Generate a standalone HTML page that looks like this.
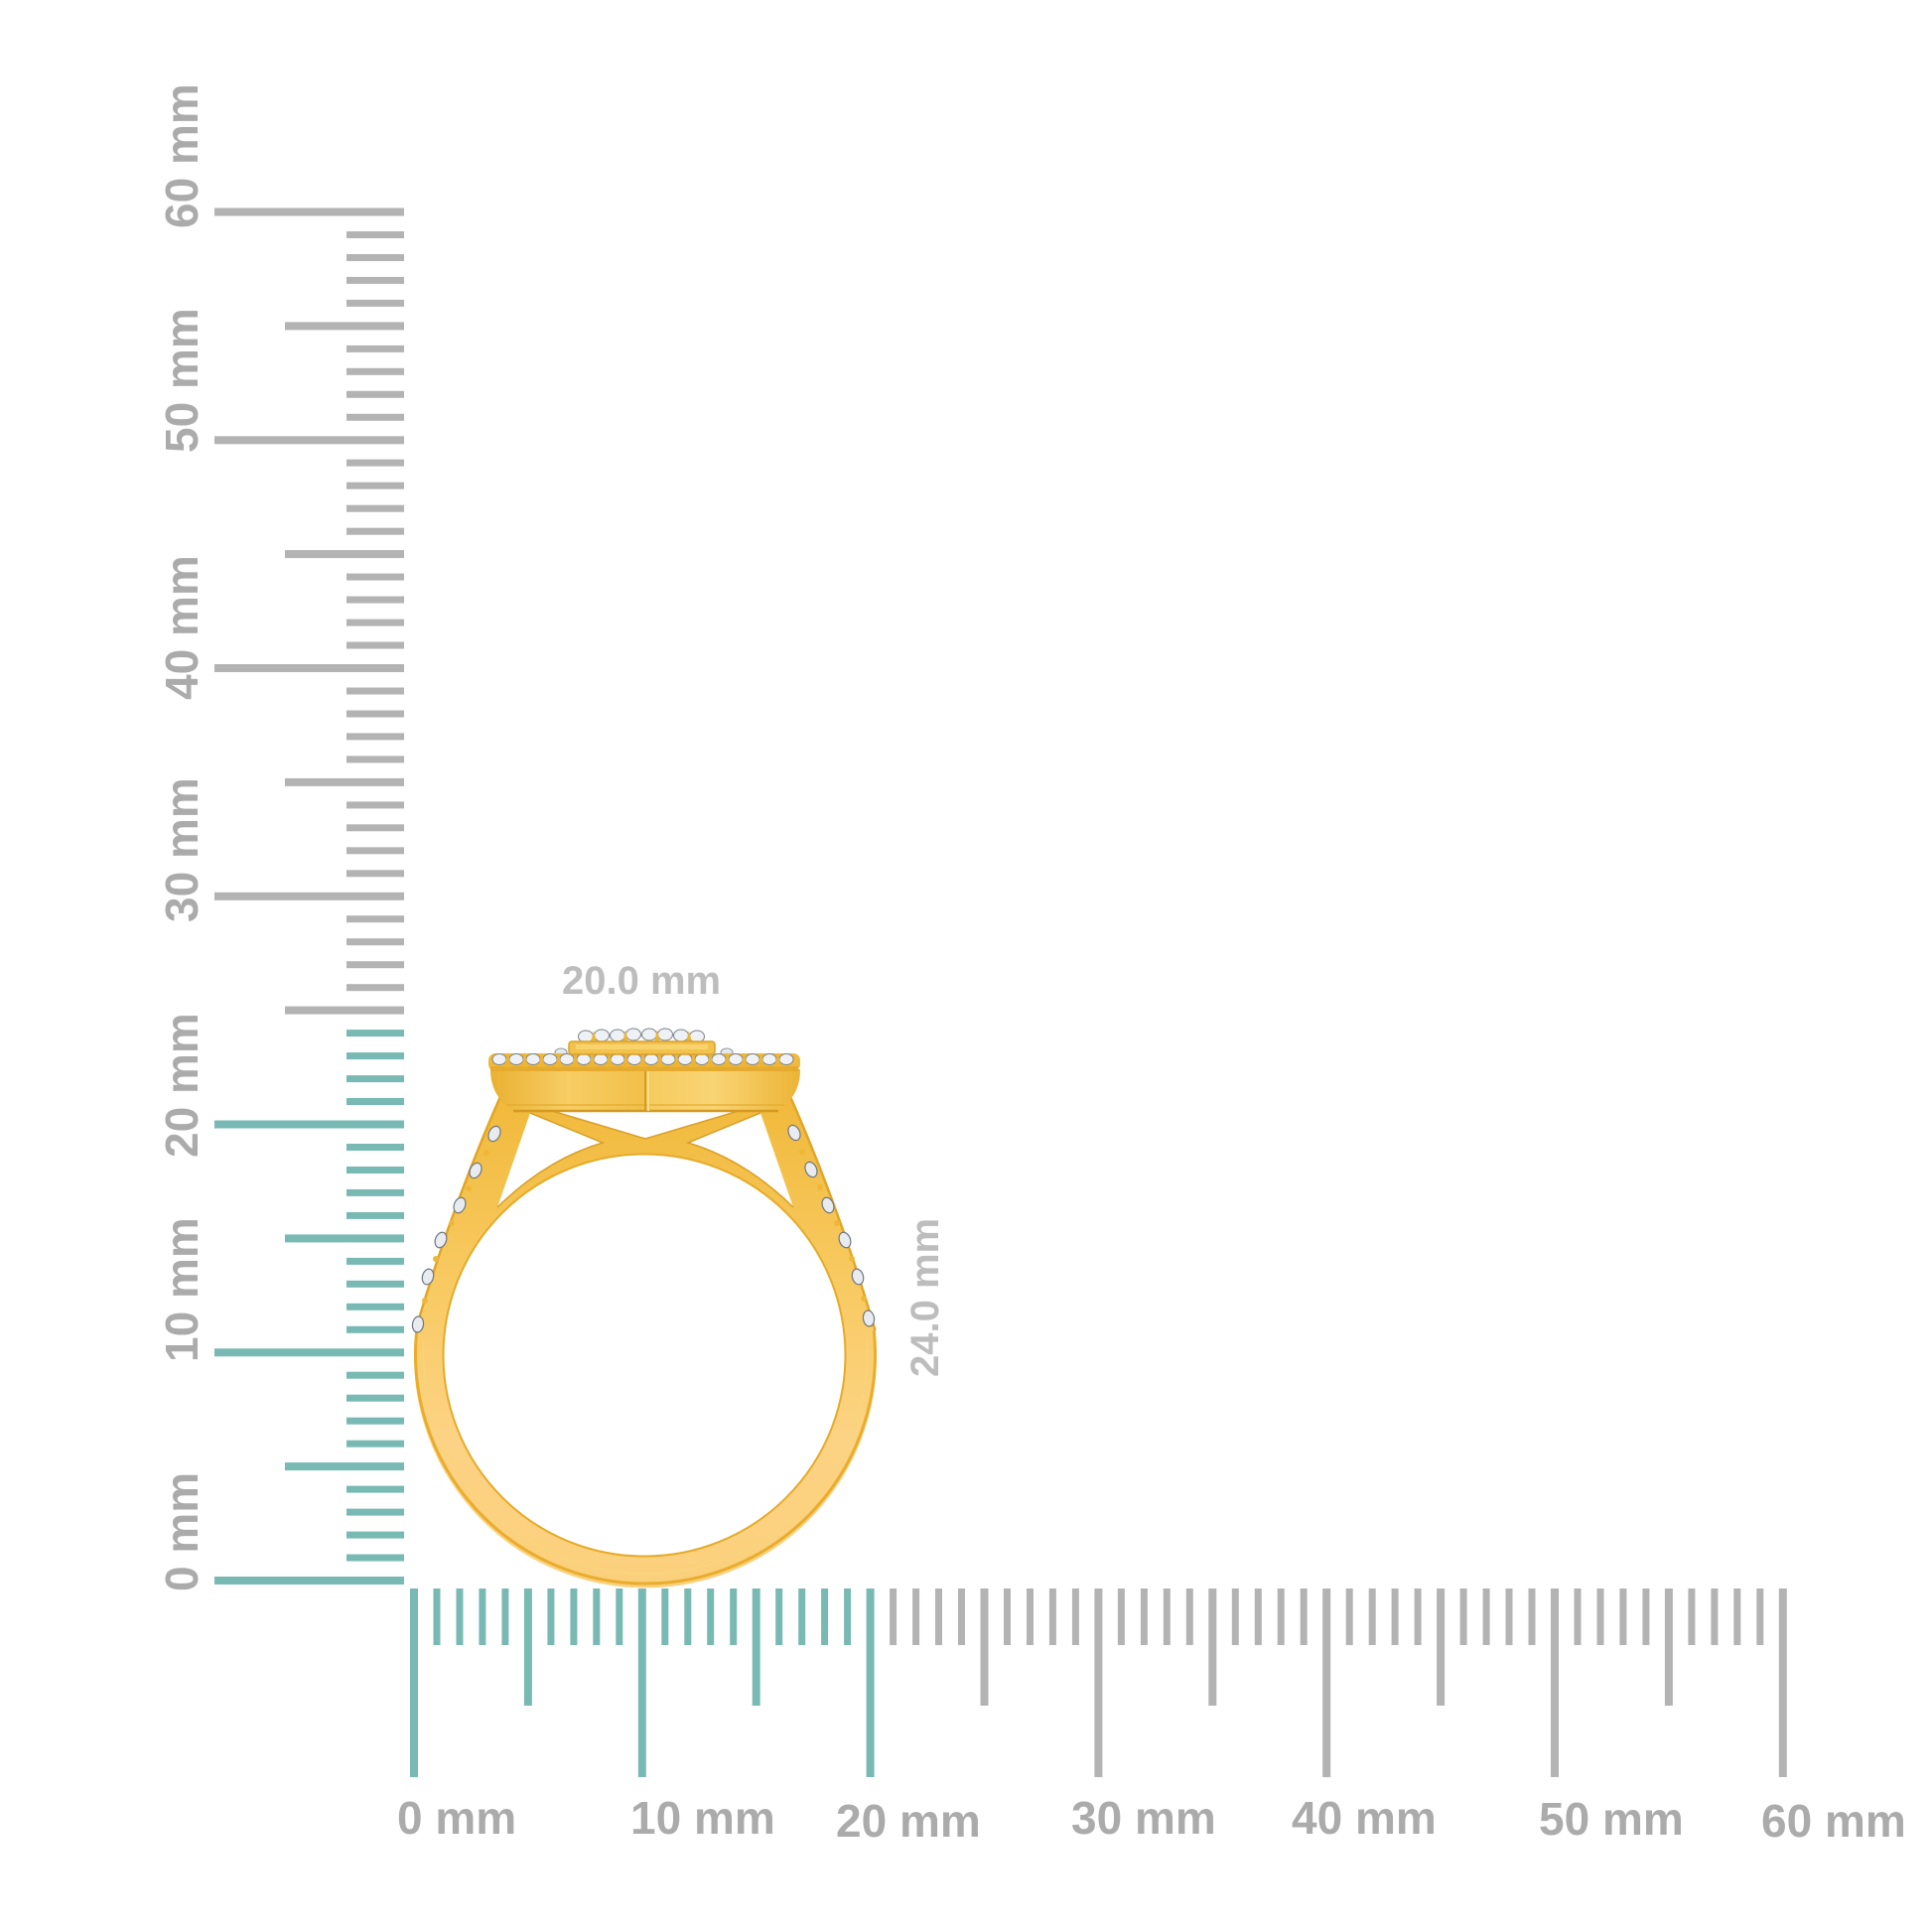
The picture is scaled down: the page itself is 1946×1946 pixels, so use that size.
<!DOCTYPE html>
<html>
<head>
<meta charset="utf-8">
<style>
html,body{margin:0;padding:0;background:#fff;}
svg{display:block;}
text{font-family:"Liberation Sans",Arial,Helvetica,sans-serif;font-weight:bold;}
</style>
</head>
<body>
<svg width="1946" height="1946" viewBox="0 0 1946 1946" xmlns="http://www.w3.org/2000/svg">
<rect width="1946" height="1946" fill="#fff"/>
<defs>
<linearGradient id="gband" x1="0" y1="1090" x2="0" y2="1600" gradientUnits="userSpaceOnUse">
<stop offset="0" stop-color="#f0b838"/>
<stop offset="0.4" stop-color="#f8ca62"/>
<stop offset="0.7" stop-color="#fcd384"/>
<stop offset="1" stop-color="#fbd07c"/>
</linearGradient>
<linearGradient id="ghead" x1="494" y1="0" x2="806" y2="0" gradientUnits="userSpaceOnUse">
<stop offset="0" stop-color="#eab132"/>
<stop offset="0.25" stop-color="#f7cd64"/>
<stop offset="0.49" stop-color="#f1c04a"/>
<stop offset="0.52" stop-color="#f6cc60"/>
<stop offset="0.72" stop-color="#f9d474"/>
<stop offset="1" stop-color="#ecb436"/>
</linearGradient>
</defs>

<g fill="#78b9b3">
<rect x="216" y="1588" width="191" height="8"/>
<rect x="349" y="1565.5" width="58" height="7"/>
<rect x="349" y="1542.6" width="58" height="7"/>
<rect x="349" y="1519.6" width="58" height="7"/>
<rect x="349" y="1496.6" width="58" height="7"/>
<rect x="287" y="1473.1" width="120" height="8"/>
<rect x="349" y="1450.7" width="58" height="7"/>
<rect x="349" y="1427.7" width="58" height="7"/>
<rect x="349" y="1404.7" width="58" height="7"/>
<rect x="349" y="1381.7" width="58" height="7"/>
<rect x="216" y="1358.3" width="191" height="8"/>
<rect x="349" y="1335.8" width="58" height="7"/>
<rect x="349" y="1312.8" width="58" height="7"/>
<rect x="349" y="1289.8" width="58" height="7"/>
<rect x="349" y="1266.9" width="58" height="7"/>
<rect x="287" y="1243.4" width="120" height="8"/>
<rect x="349" y="1220.9" width="58" height="7"/>
<rect x="349" y="1197.9" width="58" height="7"/>
<rect x="349" y="1175.0" width="58" height="7"/>
<rect x="349" y="1152.0" width="58" height="7"/>
<rect x="216" y="1128.5" width="191" height="8"/>
<rect x="349" y="1106.0" width="58" height="7"/>
<rect x="349" y="1083.1" width="58" height="7"/>
<rect x="349" y="1060.1" width="58" height="7"/>
<rect x="349" y="1037.1" width="58" height="7"/>
</g>
<g fill="#b3b3b3">
<rect x="287" y="1013.6" width="120" height="8"/>
<rect x="349" y="991.2" width="58" height="7"/>
<rect x="349" y="968.2" width="58" height="7"/>
<rect x="349" y="945.2" width="58" height="7"/>
<rect x="349" y="922.2" width="58" height="7"/>
<rect x="216" y="898.8" width="191" height="8"/>
<rect x="349" y="876.3" width="58" height="7"/>
<rect x="349" y="853.3" width="58" height="7"/>
<rect x="349" y="830.3" width="58" height="7"/>
<rect x="349" y="807.4" width="58" height="7"/>
<rect x="287" y="783.9" width="120" height="8"/>
<rect x="349" y="761.4" width="58" height="7"/>
<rect x="349" y="738.4" width="58" height="7"/>
<rect x="349" y="715.5" width="58" height="7"/>
<rect x="349" y="692.5" width="58" height="7"/>
<rect x="216" y="669.0" width="191" height="8"/>
<rect x="349" y="646.5" width="58" height="7"/>
<rect x="349" y="623.6" width="58" height="7"/>
<rect x="349" y="600.6" width="58" height="7"/>
<rect x="349" y="577.6" width="58" height="7"/>
<rect x="287" y="554.1" width="120" height="8"/>
<rect x="349" y="531.7" width="58" height="7"/>
<rect x="349" y="508.7" width="58" height="7"/>
<rect x="349" y="485.7" width="58" height="7"/>
<rect x="349" y="462.7" width="58" height="7"/>
<rect x="216" y="439.3" width="191" height="8"/>
<rect x="349" y="416.8" width="58" height="7"/>
<rect x="349" y="393.8" width="58" height="7"/>
<rect x="349" y="370.8" width="58" height="7"/>
<rect x="349" y="347.9" width="58" height="7"/>
<rect x="287" y="324.4" width="120" height="8"/>
<rect x="349" y="301.9" width="58" height="7"/>
<rect x="349" y="278.9" width="58" height="7"/>
<rect x="349" y="256.0" width="58" height="7"/>
<rect x="349" y="233.0" width="58" height="7"/>
<rect x="216" y="209.5" width="191" height="8"/>
</g>

<g fill="#78b9b3">
<rect x="413" y="1600" width="8" height="190"/>
<rect x="436.5" y="1600" width="7" height="57"/>
<rect x="459.5" y="1600" width="7" height="57"/>
<rect x="482.4" y="1600" width="7" height="57"/>
<rect x="505.4" y="1600" width="7" height="57"/>
<rect x="527.9" y="1600" width="8" height="118"/>
<rect x="551.4" y="1600" width="7" height="57"/>
<rect x="574.4" y="1600" width="7" height="57"/>
<rect x="597.3" y="1600" width="7" height="57"/>
<rect x="620.3" y="1600" width="7" height="57"/>
<rect x="642.8" y="1600" width="8" height="190"/>
<rect x="666.3" y="1600" width="7" height="57"/>
<rect x="689.3" y="1600" width="7" height="57"/>
<rect x="712.2" y="1600" width="7" height="57"/>
<rect x="735.2" y="1600" width="7" height="57"/>
<rect x="757.7" y="1600" width="8" height="118"/>
<rect x="781.2" y="1600" width="7" height="57"/>
<rect x="804.2" y="1600" width="7" height="57"/>
<rect x="827.1" y="1600" width="7" height="57"/>
<rect x="850.1" y="1600" width="7" height="57"/>
<rect x="872.6" y="1600" width="8" height="190"/>
</g>
<g fill="#b3b3b3">
<rect x="896.1" y="1600" width="7" height="57"/>
<rect x="919.1" y="1600" width="7" height="57"/>
<rect x="942.0" y="1600" width="7" height="57"/>
<rect x="965.0" y="1600" width="7" height="57"/>
<rect x="987.5" y="1600" width="8" height="118"/>
<rect x="1011.0" y="1600" width="7" height="57"/>
<rect x="1034.0" y="1600" width="7" height="57"/>
<rect x="1056.9" y="1600" width="7" height="57"/>
<rect x="1079.9" y="1600" width="7" height="57"/>
<rect x="1102.4" y="1600" width="8" height="190"/>
<rect x="1125.9" y="1600" width="7" height="57"/>
<rect x="1148.9" y="1600" width="7" height="57"/>
<rect x="1171.8" y="1600" width="7" height="57"/>
<rect x="1194.8" y="1600" width="7" height="57"/>
<rect x="1217.3" y="1600" width="8" height="118"/>
<rect x="1240.8" y="1600" width="7" height="57"/>
<rect x="1263.8" y="1600" width="7" height="57"/>
<rect x="1286.7" y="1600" width="7" height="57"/>
<rect x="1309.7" y="1600" width="7" height="57"/>
<rect x="1332.2" y="1600" width="8" height="190"/>
<rect x="1355.7" y="1600" width="7" height="57"/>
<rect x="1378.7" y="1600" width="7" height="57"/>
<rect x="1401.6" y="1600" width="7" height="57"/>
<rect x="1424.6" y="1600" width="7" height="57"/>
<rect x="1447.1" y="1600" width="8" height="118"/>
<rect x="1470.6" y="1600" width="7" height="57"/>
<rect x="1493.6" y="1600" width="7" height="57"/>
<rect x="1516.5" y="1600" width="7" height="57"/>
<rect x="1539.5" y="1600" width="7" height="57"/>
<rect x="1562.0" y="1600" width="8" height="190"/>
<rect x="1585.5" y="1600" width="7" height="57"/>
<rect x="1608.5" y="1600" width="7" height="57"/>
<rect x="1631.4" y="1600" width="7" height="57"/>
<rect x="1654.4" y="1600" width="7" height="57"/>
<rect x="1676.9" y="1600" width="8" height="118"/>
<rect x="1700.4" y="1600" width="7" height="57"/>
<rect x="1723.4" y="1600" width="7" height="57"/>
<rect x="1746.3" y="1600" width="7" height="57"/>
<rect x="1769.3" y="1600" width="7" height="57"/>
<rect x="1791.8" y="1600" width="8" height="190"/>
</g>

<g fill="#ababab" font-size="46">
<text x="400" y="1847">0 mm</text>
<text x="635" y="1847">10 mm</text>
<text x="842" y="1850">20 mm</text>
<text x="1079" y="1847">30 mm</text>
<text x="1301" y="1847">40 mm</text>
<text x="1550" y="1848">50 mm</text>
<text x="1774" y="1850">60 mm</text>
</g>
<g fill="#ababab" font-size="46">
<text transform="translate(199,230) rotate(-90)">60 mm</text>
<text transform="translate(199,456) rotate(-90)">50 mm</text>
<text transform="translate(199,705) rotate(-90)">40 mm</text>
<text transform="translate(199,929) rotate(-90)">30 mm</text>
<text transform="translate(199,1166) rotate(-90)">20 mm</text>
<text transform="translate(199,1372) rotate(-90)">10 mm</text>
<text transform="translate(199,1603) rotate(-90)">0 mm</text>
</g>

<g fill="#bdbdbd" font-size="40">
<text x="566" y="1001">20.0 mm</text>
<text transform="translate(945,1387) rotate(-90)">24.0 mm</text>
</g>

<path d="M506,1100 Q455,1215 418.5,1340 A233,233 0 1,0 881.5,1340 Q845,1215 794,1100 Z" fill="url(#gband)"/>
<path d="M419.7,1340 A231.5,231.5 0 1,0 880.3,1340" fill="none" stroke="#e9ad2b" stroke-width="3"/>
<path d="M426.8,1350 A223.5,223.5 0 1,0 873.2,1350" fill="none" stroke="#f9d47e" stroke-width="1.5" opacity="0.8"/>
<path d="M506,1100 Q455,1215 418.5,1340" fill="none" stroke="#e2a525" stroke-width="2.5"/>
<path d="M794,1100 Q845,1215 881.5,1340" fill="none" stroke="#e2a525" stroke-width="2.5"/>

<circle cx="649" cy="1365" r="202" fill="#fff"/>
<circle cx="649" cy="1365" r="202.5" fill="none" stroke="#e6aa28" stroke-width="2"/>
<polygon points="556,1119 744,1119 650,1147" fill="#fff"/>
<path d="M534,1121 L607,1151 Q550,1168 501,1216 Z" fill="#fff"/>
<path d="M766,1121 L693,1151 Q750,1168 799,1216 Z" fill="#fff"/>
<path d="M534,1121 L607,1151 Q550,1168 501,1216" fill="none" stroke="#d99f26" stroke-width="1.5"/>
<path d="M766,1121 L693,1151 Q750,1168 799,1216" fill="none" stroke="#d99f26" stroke-width="1.5"/>
<polyline points="556,1119 650,1147 744,1119" fill="none" stroke="#d99f26" stroke-width="1.5"/>

<g fill="#e6eaef" stroke="#8d949c" stroke-width="1">
<ellipse cx="565" cy="1060" rx="6" ry="4"/>
<ellipse cx="732" cy="1060" rx="6" ry="4"/>
</g>
<path d="M494,1077 L806,1077 C806,1096 798,1109 784,1119 L517,1119 C502,1109 494,1096 494,1077 Z" fill="url(#ghead)"/>
<path d="M517,1119 L784,1119" stroke="#d49a22" stroke-width="2.5"/>
<path d="M510,1113 L790,1113" stroke="#e4ab2e" stroke-width="2" opacity="0.6"/>
<line x1="650" y1="1079" x2="650" y2="1119" stroke="#d39b28" stroke-width="2"/>
<line x1="653" y1="1079" x2="653" y2="1119" stroke="#fbdc8a" stroke-width="2"/>
<rect x="492" y="1061" width="314" height="18" rx="7" fill="#efb93c"/>
<rect x="494" y="1074" width="310" height="5" fill="#e5ab2f"/>
<g fill="#eef1f5" stroke="#7c838b" stroke-width="1">
<ellipse cx="503" cy="1067" rx="7" ry="5.5"/>
<ellipse cx="520" cy="1067" rx="7" ry="5.5"/>
<ellipse cx="537" cy="1067" rx="7" ry="5.5"/>
<ellipse cx="554" cy="1067" rx="7" ry="5.5"/>
<ellipse cx="571" cy="1067" rx="7" ry="5.5"/>
<ellipse cx="588" cy="1067" rx="7" ry="5.5"/>
<ellipse cx="605" cy="1067" rx="7" ry="5.5"/>
<ellipse cx="622" cy="1067" rx="7" ry="5.5"/>
<ellipse cx="639" cy="1067" rx="7" ry="5.5"/>
<ellipse cx="656" cy="1067" rx="7" ry="5.5"/>
<ellipse cx="673" cy="1067" rx="7" ry="5.5"/>
<ellipse cx="690" cy="1067" rx="7" ry="5.5"/>
<ellipse cx="707" cy="1067" rx="7" ry="5.5"/>
<ellipse cx="724" cy="1067" rx="7" ry="5.5"/>
<ellipse cx="741" cy="1067" rx="7" ry="5.5"/>
<ellipse cx="758" cy="1067" rx="7" ry="5.5"/>
<ellipse cx="775" cy="1067" rx="7" ry="5.5"/>
<ellipse cx="792" cy="1067" rx="7" ry="5.5"/>
</g>
<g fill="#eeb535">
<polygon points="508,1075 511.5,1060 515,1075"/>
<polygon points="525,1075 528.5,1060 532,1075"/>
<polygon points="542,1075 545.5,1060 549,1075"/>
<polygon points="559,1075 562.5,1060 566,1075"/>
<polygon points="576,1075 579.5,1060 583,1075"/>
<polygon points="593,1075 596.5,1060 600,1075"/>
<polygon points="610,1075 613.5,1060 617,1075"/>
<polygon points="627,1075 630.5,1060 634,1075"/>
<polygon points="644,1075 647.5,1060 651,1075"/>
<polygon points="661,1075 664.5,1060 668,1075"/>
<polygon points="678,1075 681.5,1060 685,1075"/>
<polygon points="695,1075 698.5,1060 702,1075"/>
<polygon points="712,1075 715.5,1060 719,1075"/>
<polygon points="729,1075 732.5,1060 736,1075"/>
<polygon points="746,1075 749.5,1060 753,1075"/>
<polygon points="763,1075 766.5,1060 770,1075"/>
<polygon points="780,1075 783.5,1060 787,1075"/>
</g>
<g fill="#eef1f5" stroke="#7c838b" stroke-width="1">
<ellipse cx="590" cy="1044" rx="7.5" ry="6"/>
<ellipse cx="606" cy="1043" rx="7.5" ry="6"/>
<ellipse cx="622" cy="1043" rx="7.5" ry="6"/>
<ellipse cx="638" cy="1042" rx="7.5" ry="6"/>
<ellipse cx="654" cy="1042" rx="7.5" ry="6"/>
<ellipse cx="670" cy="1042" rx="7.5" ry="6"/>
<ellipse cx="686" cy="1043" rx="7.5" ry="6"/>
<ellipse cx="702" cy="1044" rx="7.5" ry="6"/>
</g>
<g fill="#eeb535">
<polygon points="595,1050 598,1038 601,1050"/>
<polygon points="627,1050 630,1037 633,1050"/>
<polygon points="659,1050 662,1037 665,1050"/>
<polygon points="691,1050 694,1038 697,1050"/>
</g>
<rect x="573" y="1049" width="147" height="13" rx="3" fill="#f3c24a" stroke="#d9a02a" stroke-width="1.5"/>
<rect x="580" y="1052" width="133" height="5" fill="#f9d676" opacity="0.8"/>

<g fill="#e8ecf1" stroke="#6f767e" stroke-width="1.2">
<ellipse cx="498" cy="1142" rx="5.5" ry="8" transform="rotate(25 498 1142)"/>
<ellipse cx="479" cy="1179" rx="5.5" ry="8" transform="rotate(25 479 1179)"/>
<ellipse cx="463" cy="1214" rx="5.5" ry="8" transform="rotate(22 463 1214)"/>
<ellipse cx="444" cy="1249" rx="5.5" ry="8" transform="rotate(20 444 1249)"/>
<ellipse cx="431" cy="1286" rx="5.5" ry="8" transform="rotate(15 431 1286)"/>
<ellipse cx="421" cy="1334" rx="5.5" ry="8" transform="rotate(8 421 1334)"/>
<ellipse cx="800" cy="1141" rx="5.5" ry="8" transform="rotate(-25 800 1141)"/>
<ellipse cx="817" cy="1178" rx="5.5" ry="8" transform="rotate(-25 817 1178)"/>
<ellipse cx="834" cy="1214" rx="5.5" ry="8" transform="rotate(-22 834 1214)"/>
<ellipse cx="851" cy="1249" rx="5.5" ry="8" transform="rotate(-20 851 1249)"/>
<ellipse cx="864" cy="1286" rx="5.5" ry="8" transform="rotate(-15 864 1286)"/>
<ellipse cx="875" cy="1328" rx="5.5" ry="8" transform="rotate(-8 875 1328)"/>
</g>
<g fill="#efb737">
<circle cx="490" cy="1161" r="3"/>
<circle cx="472" cy="1197" r="3"/>
<circle cx="455" cy="1232" r="3"/>
<circle cx="439" cy="1268" r="3"/>
<circle cx="428" cy="1310" r="3"/>
<circle cx="808" cy="1160" r="3"/>
<circle cx="826" cy="1196" r="3"/>
<circle cx="843" cy="1232" r="3"/>
<circle cx="858" cy="1268" r="3"/>
<circle cx="870" cy="1308" r="3"/>
</g>
</svg>
</body>
</html>
